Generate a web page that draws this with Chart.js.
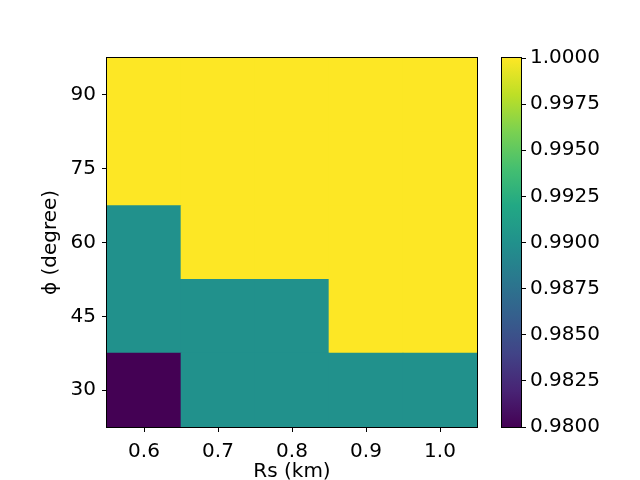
<!DOCTYPE html>
<html>
<head>
<meta charset="utf-8">
<script src="https://cdn.jsdelivr.net/npm/chart.js@4.4.1/dist/chart.umd.min.js"></script>
<style>
  body { margin: 0; background: #fff; }
  canvas { position: absolute; left: 0; top: 0; }
</style>
</head>
<body>
<canvas id="heat" width="640" height="480"></canvas>
<canvas id="cbar" width="640" height="480"></canvas>
<script>
// categories and values
var rsLabels = ['0.6', '0.7', '0.8', '0.9', '1.0'];
var phiValues = [30, 45, 60, 75, 90];
var row30 = [0.98, 0.99, 0.99, 0.99, 0.99];
var row45 = [0.99, 0.99, 0.99, 1.00, 1.00];
var row60 = [0.99, 1.00, 1.00, 1.00, 1.00];
var row75 = [1.00, 1.00, 1.00, 1.00, 1.00];
var row90 = [1.00, 1.00, 1.00, 1.00, 1.00];
var rows = [row30, row45, row60, row75, row90];
var vmin = 0.98, vmax = 1.0;
var cbTicks = [0.98, 0.9825, 0.985, 0.9875, 0.99, 0.9925, 0.995, 0.9975, 1.0];

var viridis = ['#440154', '#482475', '#414487', '#355f8d', '#2a788e', '#21918c',
               '#22a884', '#44bf70', '#7ad151', '#bddf26', '#fde725'];

function hexRgb(h) {
  return [parseInt(h.substr(1, 2), 16), parseInt(h.substr(3, 2), 16), parseInt(h.substr(5, 2), 16)];
}
function colorOf(v) {
  var t = Math.max(0, Math.min(1, (v - vmin) / (vmax - vmin))) * (viridis.length - 1);
  var i = Math.min(Math.floor(t), viridis.length - 2), f = t - i;
  var a = hexRgb(viridis[i]), b = hexRgb(viridis[i + 1]);
  return 'rgb(' + [0, 1, 2].map(function (k) { return Math.round(a[k] + (b[k] - a[k]) * f); }).join(',') + ')';
}

var font = { family: 'DejaVu Sans', size: 20 };

// spine around the plot area
var frame = {
  id: 'frame',
  afterDatasetsDraw: function (chart) {
    var a = chart.chartArea, c = chart.ctx;
    c.save();
    c.strokeStyle = '#000';
    c.lineWidth = 1;
    c.strokeRect(Math.round(a.left) - 0.5, Math.round(a.top) - 0.5,
                 Math.round(a.right - a.left) + 1, Math.round(a.bottom - a.top) + 1);
    c.restore();
  }
};

var datasets = rows.map(function (row, r) {
  var y = phiValues[r];
  return {
    data: row.map(function () { return [y - 7.5, y + 7.5]; }),
    backgroundColor: row.map(colorOf),
    borderWidth: 0,
    barPercentage: 1,
    categoryPercentage: 1,
    grouped: false
  };
});

new Chart(document.getElementById('heat'), {
  type: 'bar',
  data: { labels: rsLabels, datasets: datasets },
  options: {
    responsive: false,
    animation: false,
    layout: { padding: { left: 0, top: 58, right: 163, bottom: 0 } },
    plugins: { legend: { display: false }, tooltip: { enabled: false } },
    scales: {
      x: {
        grid: { offset: false, drawOnChartArea: false, color: '#000', tickLength: 5 },
        border: { color: '#000' },
        ticks: { color: '#000', font: font, padding: 8, maxRotation: 0 },
        title: { display: true, text: 'Rs (km)', color: '#000', font: font, padding: { top: 0, bottom: -4 } },
        afterFit: function (s) { s.height = 53; }
      },
      y: {
        min: 22.5, max: 97.5,
        grid: { drawOnChartArea: false, color: '#000', tickLength: 5 },
        border: { color: '#000' },
        ticks: { color: '#000', font: font, padding: 6 },
        title: { display: true, text: 'ϕ (degree)', color: '#000', font: font, padding: { top: 39, bottom: 0 } },
        afterBuildTicks: function (s) { s.ticks = phiValues.map(function (v) { return { value: v }; }); },
        afterFit: function (s) { s.width = 107; }
      }
    }
  },
  plugins: [frame]
});

// colorbar
new Chart(document.getElementById('cbar'), {
  type: 'bar',
  data: {
    labels: [''],
    datasets: [{
      data: [[vmin, vmax]],
      borderWidth: 0,
      barPercentage: 1,
      categoryPercentage: 1,
      backgroundColor: function (ctx) {
        var a = ctx.chart.chartArea;
        if (!a) return viridis[5];
        var g = ctx.chart.ctx.createLinearGradient(0, a.bottom, 0, a.top);
        viridis.forEach(function (c, i) { g.addColorStop(i / (viridis.length - 1), c); });
        return g;
      }
    }]
  },
  options: {
    responsive: false,
    animation: false,
    layout: { padding: { left: 502, top: 58, right: 0, bottom: 53 } },
    plugins: { legend: { display: false }, tooltip: { enabled: false } },
    scales: {
      x: { display: false },
      y: {
        position: 'right',
        min: vmin, max: vmax,
        grid: { drawOnChartArea: false, color: '#000', tickLength: 5 },
        border: { color: '#000' },
        ticks: { color: '#000', font: font, padding: 4, callback: function (v) { return v.toFixed(4); } },
        afterBuildTicks: function (s) { s.ticks = cbTicks.map(function (v) { return { value: v }; }); },
        afterFit: function (s) { s.width = 119; }
      }
    }
  },
  plugins: [frame]
});
</script>
</body>
</html>
